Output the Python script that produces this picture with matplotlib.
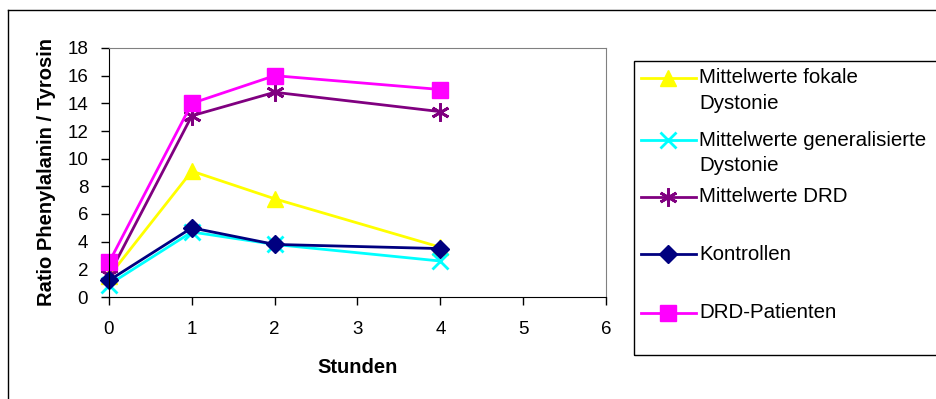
import matplotlib
matplotlib.use("Agg")
import matplotlib.pyplot as plt
from matplotlib.lines import Line2D
from matplotlib.patches import Rectangle

plt.rcParams['font.family'] = ['Liberation Sans', 'DejaVu Sans']

hours = [0, 1, 2, 4]
fokal = [1.5, 9.1, 7.1, 3.6]
generalisiert = [0.9, 4.7, 3.8, 2.6]
drd_mean = [1.6, 13.1, 14.8, 13.4]
kontrollen = [1.2, 5.0, 3.8, 3.5]
drd_pat = [2.5, 14.0, 16.0, 15.0]

labels = ["Mittelwerte fokale\nDystonie", "Mittelwerte generalisierte\nDystonie",
          "Mittelwerte DRD", "Kontrollen", "DRD-Patienten"]
colors = ["#FFFF00", "#00FFFF", "#800080", "#000080", "#FF00FF"]
markers = ["^", "x", (6, 2, 0), "D", "s"]
msizes = [11, 11, 13, 9.5, 11]
series = [fokal, generalisiert, drd_mean, kontrollen, drd_pat]

W, H = 937, 399
fig = plt.figure(figsize=(W / 100, H / 100), dpi=100)

# outer frame (left and top visible)
fig.add_artist(Line2D([8 / W, 8 / W], [0, 1 - 10 / H], transform=fig.transFigure, color="black", lw=1))
fig.add_artist(Line2D([8 / W, 1], [1 - 10 / H, 1 - 10 / H], transform=fig.transFigure, color="black", lw=1))

ax = fig.add_axes([109 / W, 1 - 297 / H, 497 / W, 249 / H])
for s, c, m, ms, lab in zip(series, colors, markers, msizes, labels):
    ax.plot(hours, s, color=c, marker=m, markersize=ms, lw=2, label=lab,
            markeredgewidth=2 if m in ("x", (6, 2, 0)) else 1, markeredgecolor=c, clip_on=False)

ax.set_xlim(0, 6)
ax.set_ylim(0, 18)
ax.set_xticks(range(0, 7))
ax.set_yticks(range(0, 19, 2))
ax.tick_params(direction="out", length=6, labelsize=13.5, width=1)
ax.tick_params(axis="x", pad=11)
ax.tick_params(axis="y", pad=9)
for side in ("top", "right"):
    ax.spines[side].set_color("#808080")
for side in ("left", "bottom"):
    ax.spines[side].set_color("black")
ax.set_xlabel("Stunden", fontsize=14.5, fontweight="bold", labelpad=15)
ax.set_ylabel("Ratio Phenylalanin / Tyrosin", fontsize=14.5, fontweight="bold", labelpad=8)

# legend box
fig.add_artist(Rectangle((634 / W, 1 - 355 / H), (W + 10 - 634) / W, (355 - 61) / H,
                         transform=fig.transFigure, fill=False, edgecolor="black", lw=1))
ys = [77.7, 140, 196.7, 254, 313]
for y, c, m, ms, lab in zip(ys, colors, markers, msizes, labels):
    yf = 1 - y / H
    fig.add_artist(Line2D([641 / W, 696 / W], [yf, yf], transform=fig.transFigure, color=c, lw=2))
    fig.add_artist(Line2D([668.5 / W], [yf], transform=fig.transFigure, color=c, marker=m,
                          markersize=ms, markeredgecolor=c,
                          markeredgewidth=2 if m in ("x", (6, 2, 0)) else 1))
    for i, line in enumerate(lab.split("\n")):
        fig.text(699 / W, 1 - (y + i * 25.6) / H, line, fontsize=14.8, va="center", ha="left")

fig.savefig("out.png", dpi=100)
